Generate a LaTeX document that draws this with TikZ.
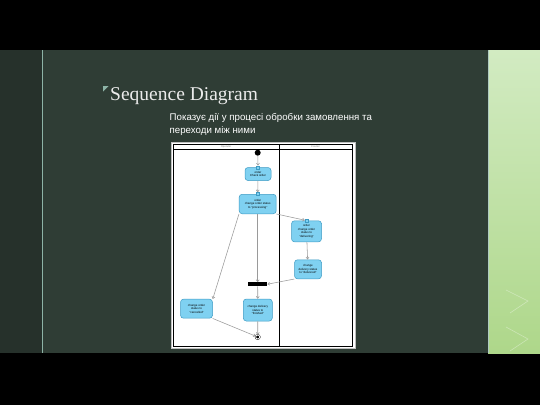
\documentclass[tikz,border=0pt]{standalone}
\usepackage{fontspec}
\setmainfont{Liberation Serif}
\newfontfamily\subfont{Liberation Sans}
\usepackage{tikz}
\usetikzlibrary{arrows.meta,backgrounds,calc,positioning}
\definecolor{slidegreen}{HTML}{2F3D35}
\definecolor{leftpanel}{HTML}{26312B}
\definecolor{edgeline}{HTML}{8DB3A6}
\definecolor{stripTop}{HTML}{D2EBC2}
\definecolor{stripBot}{HTML}{AED78A}
\definecolor{actfill}{HTML}{7FD1F1}
\definecolor{actborder}{HTML}{3E9BC4}
\definecolor{flowgray}{HTML}{9A9A9A}

\tikzset{
  action/.style={draw=actborder, fill=actfill, rounded corners=3pt, line width=0.5pt,
    align=center, inner sep=0pt, font=\subfont\fontsize{2.9}{3.4}\selectfont},
  objpin/.style={draw=actborder, fill=actfill, line width=0.4pt, minimum size=3pt, inner sep=0pt},
  flow/.style={draw=flowgray, line width=0.55pt, -{Straight Barb[length=2pt,width=3pt]}},
  startdot/.style={circle, fill=black, minimum size=6pt, inner sep=0pt},
  enddot/.style={circle, draw=black, fill=black, double=white, double distance=0.8pt, minimum size=4pt, inner sep=0pt},
  forkbar/.style={fill=black, minimum width=19pt, minimum height=3.7pt, inner sep=0pt},
  lanetitle/.style={font=\subfont\fontsize{2.6}{3}\selectfont, text=gray}
}

\begin{document}
\begin{tikzpicture}[x=1pt,y=-1pt]
\pgfmathsetmacro{\breite}{540}
\pgfmathsetmacro{\hoehe}{405}
\pgfmathsetmacro{\lane}{279}
\useasboundingbox (0,0) rectangle (\breite,\hoehe);
% slide
\fill[black] (0,0) rectangle (\breite,\hoehe);
\fill[slidegreen] (0,50) rectangle (488,353);
\fill[leftpanel] (0,50) rectangle (42,353);
\draw[edgeline, line width=1.2pt] (42.5,50) -- (42.5,353);
\shade[top color=stripTop, bottom color=stripBot] (488,50) rectangle (\breite,353);
\draw[edgeline!70!white, line width=1pt] (488.5,50) -- (488.5,353);
\draw[white, opacity=0.35, line width=0.6pt] (506,290) -- (528,301) -- (510,313);
\draw[white, opacity=0.35, line width=0.6pt] (506,327) -- (528,339) -- (510,351);
% title
\fill[edgeline] (103,86) -- (108.5,86) -- (103,91.5) -- cycle;
\node[anchor=base west, inner sep=0pt, text=white!92!black, font=\fontsize{19.5}{23}\selectfont] (title) at (110,100.5) {Sequence Diagram};
\node[anchor=base west, inner sep=0pt, text=white, align=left, font=\subfont\fontsize{9.7}{12.7}\selectfont] (subtitle) at (169.5,133.4) {Показує дії у процесі обробки замовлення та\\переходи між ними};
% frame and swimlanes
\draw[draw=gray!50, fill=white, line width=0.8pt] (171,142) rectangle (355,348);
\draw[line width=0.5pt] (173,144) rectangle (352,346);
\draw[line width=0.4pt] (173,149) -- (352,149);
\draw[line width=0.9pt] (\lane,144) -- (\lane,346);
\node[lanetitle] (laneA) at (226,146.5) {Operator};
\node[lanetitle] (laneB) at (315.5,146.5) {Courier};
% activities
\node[startdot] (start) at (257.7,152.7) {};
\node[action, minimum width=26pt, minimum height=13pt] (check) at (258,174) {order\\Check order};
\node[action, minimum width=37pt, minimum height=19.5pt] (proc) at (257.7,204) {order\\change order status\\to "processing"};
\node[action, minimum width=30pt, minimum height=21pt] (deliv) at (306.5,231.3) {order\\change order\\status to\\"delivering"};
\node[action, minimum width=27pt, minimum height=19pt] (done) at (308,269.3) {change\\delivery status\\to "delivered"};
\node[forkbar] (fork) at (257.7,284.2) {};
\node[action, minimum width=32pt, minimum height=19pt] (cancel) at (196.5,308.7) {change order\\status to\\"cancelled"};
\node[action, minimum width=29pt, minimum height=22pt] (finish) at (257.8,310) {change delivery\\status to\\"finished"};
\node[enddot] (end) at (257.7,337) {};
\node[objpin] (pincheck) at (check.north) {};
\node[objpin] (pinproc) at (proc.north) {};
\node[objpin] (pindeliv) at (deliv.north) {};
% flows
\draw[flow] (start) -- (pincheck);
\draw[flow] (check) -- (pinproc);
\draw[flow] (proc.south east) -- (pindeliv);
\draw[flow] (proc) -- (fork);
\draw[flow] (proc.south west) -- (cancel.north east);
\draw[flow] (deliv) -- (done);
\draw[flow] (done.south west) -- (fork.east);
\draw[flow] (fork) -- (finish);
\draw[flow] (finish) -- (end);
\draw[flow] (cancel.south east) -- (end);
\end{tikzpicture}
\end{document}
